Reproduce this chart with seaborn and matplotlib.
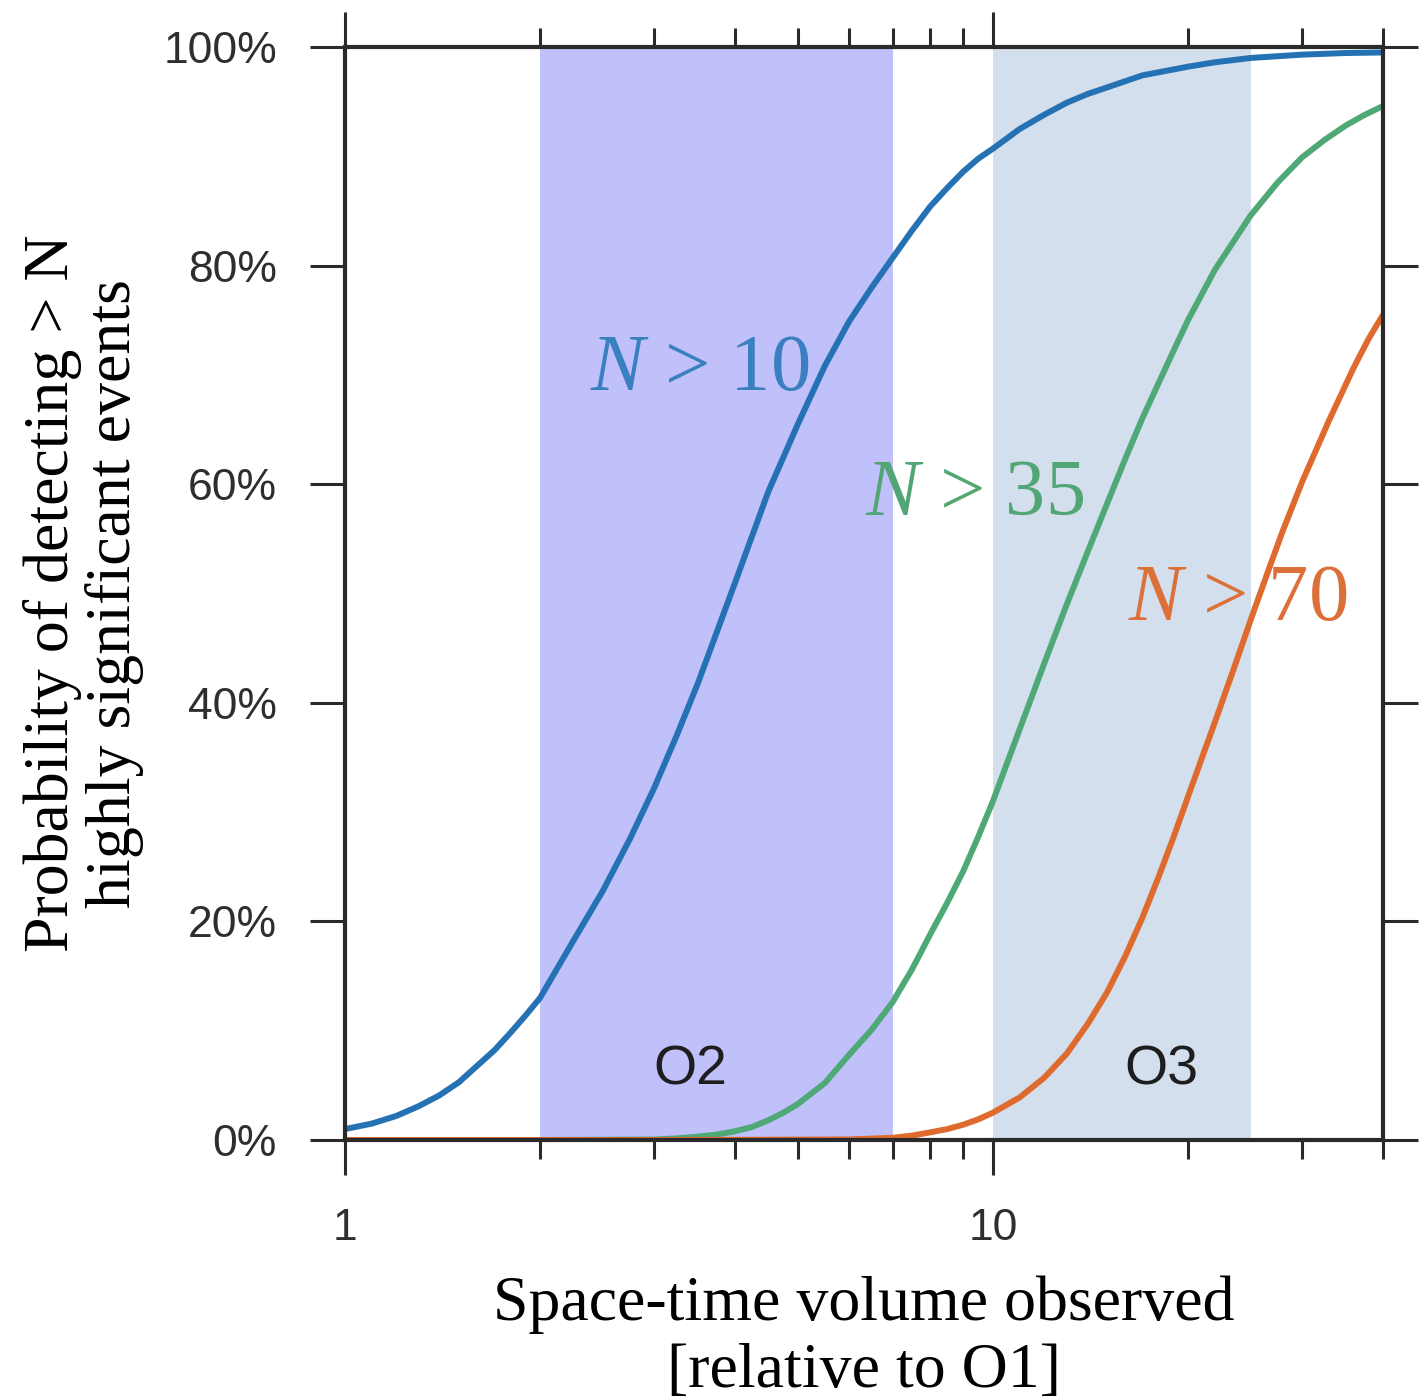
import numpy as np
import pandas as pd
import matplotlib
matplotlib.use("Agg")
import matplotlib.pyplot as plt
import matplotlib.ticker as mticker
import seaborn as sns

# ---------------- data ----------------
volume_n10 = [1.0, 1.1, 1.2, 1.3, 1.4, 1.5, 1.6, 1.7, 1.8, 1.9, 2.0, 2.25, 2.5, 2.75, 3.0,
              3.25, 3.5, 3.75, 4.0, 4.5, 5.0, 5.5, 6.0, 6.5, 7.0, 7.5, 8.0, 8.5, 9.0, 9.5,
              10, 11, 12, 13, 14, 15, 17, 20, 22, 25, 30, 35, 40]
prob_n10 = [1.0, 1.5, 2.2, 3.1, 4.1, 5.3, 6.8, 8.2, 9.8, 11.4, 13.0, 18.2, 22.8, 27.5, 32.2,
            37.0, 41.7, 46.5, 51.0, 59.3, 65.5, 70.8, 74.9, 78.0, 80.7, 83.2, 85.4, 87.1, 88.6, 89.8,
            90.7, 92.5, 93.8, 94.9, 95.7, 96.3, 97.4, 98.2, 98.6, 99.0, 99.3, 99.45, 99.5]

volume_n35 = [1.0, 2.0, 3.0, 3.25, 3.5, 3.75, 4.0, 4.25, 4.5, 4.75, 5.0, 5.5, 6.0, 6.5, 7.0,
              7.5, 8.0, 8.5, 9.0, 9.5, 10, 11, 12, 13, 14, 15, 16, 17, 18, 19, 20, 22, 25,
              27.5, 30, 32.5, 35, 37.5, 40]
prob_n35 = [0.0, 0.0, 0.05, 0.15, 0.3, 0.5, 0.8, 1.2, 1.8, 2.5, 3.3, 5.2, 7.8, 10.1, 12.6,
            15.6, 18.8, 21.7, 24.6, 27.8, 31.0, 37.6, 43.6, 49.0, 53.8, 58.2, 62.3, 66.0, 69.2,
            72.2, 75.0, 79.6, 84.6, 87.6, 89.9, 91.5, 92.8, 93.8, 94.6]

volume_n70 = [1.0, 3.0, 6.0, 7.0, 7.5, 8.0, 8.5, 9.0, 9.5, 10, 11, 12, 13, 14, 15, 16, 17,
              18, 19, 20, 21, 22, 23.5, 25, 26.5, 28, 30, 33, 36, 38, 40]
prob_n70 = [0.0, 0.0, 0.05, 0.2, 0.4, 0.7, 1.0, 1.4, 1.9, 2.5, 3.9, 5.7, 7.9, 10.6, 13.5,
            16.8, 20.3, 24.0, 27.7, 31.4, 34.9, 38.2, 43.0, 47.6, 51.8, 55.7, 60.2, 65.8, 70.6,
            73.3, 75.5]

run_names = ["O2", "O3"]
run_start = [2.0, 10.0]
run_end = [7.0, 25.0]
run_label_x = [3.41, 18.2]
run_label_y = [6.4, 6.4]

curve_labels = ["$N$ > 10", "$N$ > 35", "$N$ > 70"]
label_x = [2.39, 6.35, 16.16]
label_y = [68.6, 57.2, 47.6]

y_ticks = [0, 20, 40, 60, 80, 100]
y_tick_labels = ["0%", "20%", "40%", "60%", "80%", "100%"]
x_major = [1, 10]
x_major_labels = ["1", "10"]
x_minor = [2, 3, 4, 5, 6, 7, 8, 9, 20, 30, 40]

# ---------------- style ----------------
sns.set_style("ticks")
plt.rcParams["font.family"] = ["Liberation Sans", "DejaVu Sans"]
plt.rcParams["mathtext.fontset"] = "custom"
plt.rcParams["mathtext.rm"] = "Liberation Serif"
plt.rcParams["mathtext.it"] = "Liberation Serif:italic"

line_colors = ["#2471b4", "#4fa977", "#de6a2e"]
text_colors = ["#3a80c0", "#52a676", "#dc7038"]
run_colors = ["#c0c0fa", "#d3dfed"]
axis_color = "#2a2a2a"
serif = ["Liberation Serif", "DejaVu Serif"]

fig = plt.figure(figsize=(14.28, 14.0), dpi=100)
ax = fig.add_axes([345 / 1428, 1 - 1140 / 1400, (1383 - 345) / 1428, (1140 - 47) / 1400])

for s, e, c in zip(run_start, run_end, run_colors):
    ax.axvspan(s, e, color=c, lw=0, zorder=0)

df = pd.concat([
    pd.DataFrame({"volume": volume_n10, "prob": prob_n10, "curve": "N>10"}),
    pd.DataFrame({"volume": volume_n35, "prob": prob_n35, "curve": "N>35"}),
    pd.DataFrame({"volume": volume_n70, "prob": prob_n70, "curve": "N>70"}),
])
sns.lineplot(data=df, x="volume", y="prob", hue="curve", palette=line_colors,
             linewidth=4.3, legend=False, ax=ax, estimator=None, sort=True,
             solid_joinstyle="round", solid_capstyle="butt")

ax.set_xscale("log")
ax.set_xlim(1, 40)
ax.set_ylim(0, 100)

ax.xaxis.set_major_locator(mticker.FixedLocator(x_major))
ax.xaxis.set_major_formatter(mticker.FixedFormatter(x_major_labels))
ax.xaxis.set_minor_locator(mticker.FixedLocator(x_minor))
ax.xaxis.set_minor_formatter(mticker.NullFormatter())
ax.set_yticks(y_ticks)
ax.set_yticklabels(y_tick_labels)

ax.tick_params(axis="both", which="both", direction="out", top=True, right=True,
               labeltop=False, labelright=False, color=axis_color, width=2.2,
               labelcolor="#2e2e2e", labelsize=32)
ax.tick_params(axis="x", which="major", length=25, pad=24)
ax.tick_params(axis="x", which="minor", length=14)
ax.tick_params(axis="y", which="major", length=25, pad=24)

for sp in ax.spines.values():
    sp.set_visible(True)
    sp.set_color(axis_color)
    sp.set_linewidth(3)

ax.set_xlabel("Space-time volume observed\n[relative to O1]", family=serif, fontsize=46,
              color="black", labelpad=19, linespacing=1.2)
ax.set_ylabel("Probability of detecting > N\nhighly significant events", family=serif,
              fontsize=46, color="black", labelpad=14, linespacing=1.05)

for t, x, y, c in zip(curve_labels, label_x, label_y, text_colors):
    ax.text(x, y, t, color=c, fontsize=58, family=serif, ha="left", va="baseline", zorder=3)

for name, x, y in zip(run_names, run_label_x, run_label_y):
    ax.text(x, y, name, fontsize=40, color="#1e1e1e", ha="center", va="center", zorder=3)

fig.savefig("out.png", dpi=100)
